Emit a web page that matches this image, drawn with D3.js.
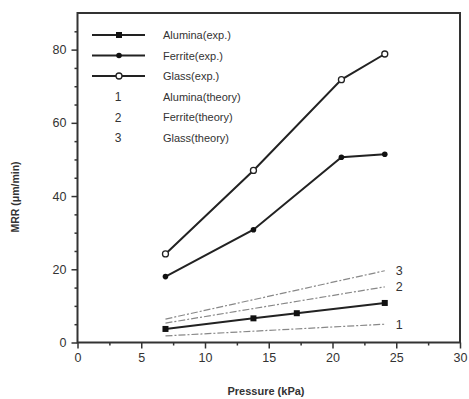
<!DOCTYPE html>
<html><head><meta charset="utf-8">
<script src="https://cdn.jsdelivr.net/npm/d3@7"></script>
<style>body{margin:0;background:#fff}svg{display:block}text{font-family:"Liberation Sans",Arial,sans-serif;fill:#333}</style>
</head><body><svg id="c" width="469" height="399"></svg>
<script>
const pressureExp = [6.9, 13.8, 20.7, 24.1];
const pressureAl = [6.9, 13.8, 17.2, 24.1];
const glassExp = [24.2, 47, 71.8, 78.8];
const ferriteExp = [18, 30.8, 50.6, 51.4];
const aluminaExp = [3.7, 6.6, 8.0, 10.8];
const theoryX = [6.9, 24.1];
const aluminaTheory = [1.8, 5.0];
const ferriteTheory = [5.3, 15.2];
const glassTheory = [6.4, 19.6];
const theoryLabels = ["1", "2", "3"];
const xTicks = [0, 5, 10, 15, 20, 25, 30];
const yTicks = [0, 20, 40, 60, 80];
const legendLabels = ["Alumina(exp.)", "Ferrite(exp.)", "Glass(exp.)", "Alumina(theory)", "Ferrite(theory)", "Glass(theory)"];

const svg = d3.select("#c");
const x = d3.scaleLinear().domain([0, 30]).range([77.5, 460]);
const y = d3.scaleLinear().domain([0, 90]).range([342.5, 13]);

// frame
svg.append("rect").attr("x", x(0)).attr("y", y(90)).attr("width", x(30) - x(0)).attr("height", y(0) - y(90))
  .attr("fill", "none").attr("stroke", "#333").attr("stroke-width", 2);

// x axis
const xa = svg.append("g").attr("transform", `translate(0,${y(0)})`)
  .call(d3.axisBottom(x).tickValues(xTicks).tickSize(6).tickPadding(5).tickFormat(d3.format("d")));
xa.select(".domain").remove();
xa.selectAll("line").attr("stroke", "#333").attr("stroke-width", 1.5);
xa.selectAll("text").attr("font-size", 12.5).attr("fill", "#444");
svg.append("g").attr("transform", `translate(0,${y(0)})`)
  .call(d3.axisBottom(x).tickValues(d3.range(2.5, 30, 5)).tickSize(3).tickFormat(""))
  .call(g => { g.select(".domain").remove(); g.selectAll("line").attr("stroke", "#333").attr("stroke-width", 1.5); });

// y axis
const ya = svg.append("g").attr("transform", `translate(${x(0)},0)`)
  .call(d3.axisLeft(y).tickValues(yTicks).tickSize(6).tickPadding(5));
ya.select(".domain").remove();
ya.selectAll("line").attr("stroke", "#333").attr("stroke-width", 1.5);
ya.selectAll("text").attr("font-size", 12.5).attr("fill", "#444");
svg.append("g").attr("transform", `translate(${x(0)},0)`)
  .call(d3.axisLeft(y).tickValues(d3.range(5, 90, 5).filter(v => v % 20 !== 0)).tickSize(3).tickFormat(""))
  .call(g => { g.select(".domain").remove(); g.selectAll("line").attr("stroke", "#333").attr("stroke-width", 1.5); });

// axis titles
svg.append("text").attr("x", 266).attr("y", 395).attr("text-anchor", "middle")
  .attr("font-size", 11).attr("font-weight", "bold").attr("fill", "#222").text("Pressure (kPa)");
svg.append("text").attr("transform", "translate(19,197) rotate(-90)").attr("text-anchor", "middle")
  .attr("font-size", 10.5).attr("font-weight", "bold").attr("fill", "#222").text("MRR (\u03bcm/min)");

// theory lines
const line = d3.line().x(d => x(d[0])).y(d => y(d[1]));
const theories = [aluminaTheory, ferriteTheory, glassTheory];
theories.forEach((t, i) => {
  svg.append("path").datum(theoryX.map((v, j) => [v, t[j]])).attr("d", line)
    .attr("fill", "none").attr("stroke", "#888").attr("stroke-width", 1.2).attr("stroke-dasharray", "7,2,2,2");
  svg.append("text").attr("x", x(24.1) + 11).attr("y", y(t[1]) + 4.5).attr("font-size", 12.5).attr("fill", "#333").text(theoryLabels[i]);
});

// exp series
const series = [
  {xs: pressureAl, ys: aluminaExp, m: "sq"},
  {xs: pressureExp, ys: ferriteExp, m: "dot"},
  {xs: pressureExp, ys: glassExp, m: "open"}
];
function marker(g, m, cx, cy) {
  if (m === "sq") {
    g.append("rect").attr("x", cx - 3).attr("y", cy - 3).attr("width", 6).attr("height", 6).attr("fill", "#111");
  } else if (m === "dot") {
    g.append("circle").attr("cx", cx).attr("cy", cy).attr("r", 2.8).attr("fill", "#111");
  } else {
    g.append("circle").attr("cx", cx).attr("cy", cy).attr("r", 3).attr("fill", "#fff").attr("stroke", "#222").attr("stroke-width", 1.3);
  }
}
series.forEach(s => {
  const pts = s.xs.map((v, j) => [v, s.ys[j]]);
  svg.append("path").datum(pts).attr("d", line).attr("fill", "none").attr("stroke", "#222").attr("stroke-width", 2);
  const g = svg.append("g");
  pts.forEach(p => marker(g, s.m, x(p[0]), y(p[1])));
});

// legend
const rowY = [35, 55.5, 76, 96.5, 117, 137.5];
legendLabels.forEach((lab, i) => {
  if (i < 3) {
    svg.append("line").attr("x1", 92).attr("x2", 145).attr("y1", rowY[i]).attr("y2", rowY[i]).attr("stroke", "#222").attr("stroke-width", 2);
    marker(svg, series[i].m, 119, rowY[i]);
  } else {
    svg.append("text").attr("x", 118).attr("y", rowY[i] + 4.5).attr("text-anchor", "middle").attr("font-size", 12).text(theoryLabels[i - 3]);
  }
  svg.append("text").attr("x", 163).attr("y", rowY[i] + 4).attr("font-size", 11).text(lab);
});
</script></body></html>
